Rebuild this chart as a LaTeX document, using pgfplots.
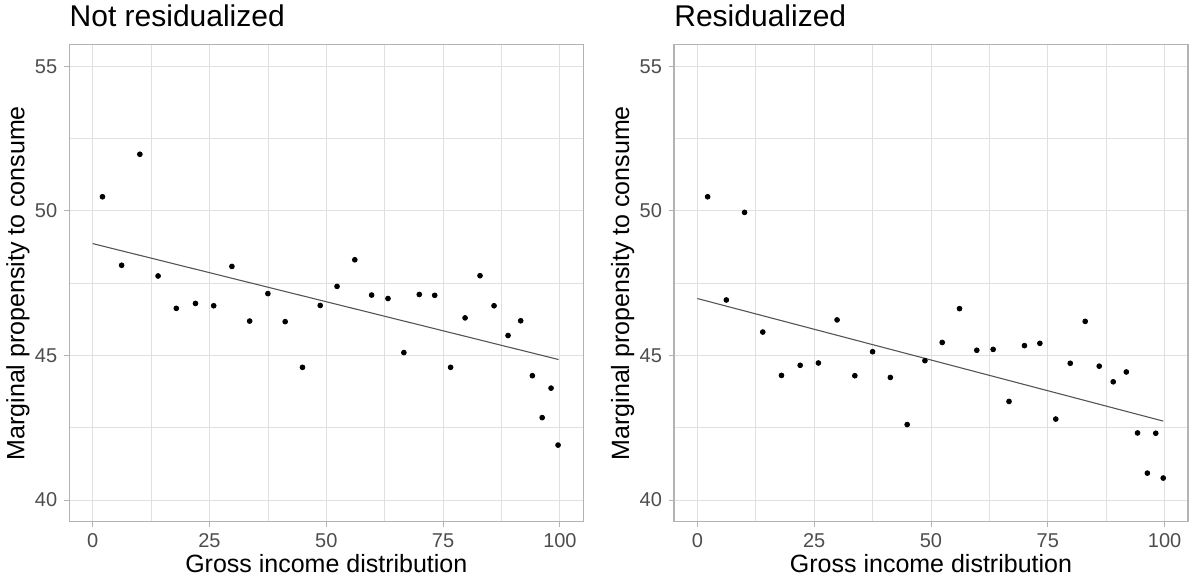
\documentclass[border=0pt]{standalone}
\usepackage{fontspec}
\setmainfont{Liberation Sans}
\usepackage{pgfplots}
\pgfplotsset{compat=1.18}
\definecolor{gborder}{RGB}{179,179,179}
\definecolor{ggrid}{RGB}{224,224,224}
\definecolor{gtick}{RGB}{77,77,77}
\definecolor{gline}{RGB}{85,85,85}

\pgfplotsset{
 panel/.style={
  scale only axis, width=257pt, height=238.5pt,
  anchor=south west,
  xmin=-5, xmax=105, ymin=39.25, ymax=55.75,
  xtick={0,25,50,75,100}, ytick={40,45,50,55},
  minor xtick={12.5,37.5,62.5,87.5}, minor ytick={42.5,47.5,52.5},
  grid=both,
  major grid style={ggrid, line width=0.5pt},
  minor grid style={ggrid, line width=0.3pt},
  axis line style={gborder, line width=0.6pt},
  tick align=outside, tick pos=left,
  major tick length=2.5pt, minor tick length=0pt,
  every tick/.style={gborder, line width=0.5pt},
  tick label style={font=\fontsize{10}{12}\selectfont, text=gtick},
  /pgf/number format/assume math mode=true,
  xlabel={Gross income distribution},
  ylabel={Marginal propensity to consume},
  xlabel style={at={(axis description cs:0.5,-0.0876)}, anchor=center, font=\fontsize{12.5}{15}\selectfont},
  ylabel style={at={(axis description cs:-0.1,0.5)}, anchor=center, font=\fontsize{12.5}{15}\selectfont},
  every axis title/.style={at={(axis description cs:0,1)}, anchor=base west, inner xsep=0pt, yshift=9.35pt, font=\fontsize{15}{18}\selectfont},
 },
 pts/.style={only marks, mark=*, mark size=1.2pt, black},
 fit/.style={no marks, gline, line width=0.55pt},
}

\begin{document}
\begin{tikzpicture}
\useasboundingbox (0,0) rectangle (595.5pt,292.5pt);
\begin{axis}[panel, at={(34.65pt,31.65pt)}, title={Not residualized}]
\addplot[fit] coordinates {(0,48.87) (99.7,44.86)};
\addplot[pts] coordinates {
(2.1,50.49) (6.2,48.12) (10.1,51.96) (14.0,47.75) (17.9,46.63) (22.0,46.80)
(25.9,46.72) (29.8,48.08) (33.6,46.19) (37.5,47.14) (41.2,46.17) (44.9,44.59)
(48.7,46.73) (52.3,47.39) (56.1,48.31) (59.7,47.09) (63.2,46.97) (66.6,45.10)
(69.9,47.11) (73.2,47.08) (76.6,44.59) (79.7,46.30) (82.9,47.76) (85.9,46.72)
(88.9,45.69) (91.6,46.20) (94.1,44.30) (96.2,42.85) (98.1,43.87) (99.6,41.90)};
\end{axis}
\begin{axis}[panel, at={(337pt,31.65pt)}, title={Residualized}]
\addplot[fit] coordinates {(0,46.97) (99.7,42.73)};
\addplot[pts] coordinates {
(2.2,50.49) (6.2,46.92) (10.1,49.95) (14.0,45.81) (18.0,44.31) (22.0,44.66)
(25.9,44.74) (29.9,46.23) (33.7,44.30) (37.5,45.13) (41.3,44.24) (44.9,42.61)
(48.7,44.82) (52.4,45.45) (56.1,46.62) (59.8,45.18) (63.3,45.21) (66.7,43.41)
(70.0,45.34) (73.3,45.42) (76.7,42.80) (79.8,44.73) (83.0,46.18) (86.0,44.63)
(89.0,44.09) (91.8,44.43) (94.2,42.32) (96.3,40.93) (98.1,42.31) (99.7,40.76)};
\end{axis}
\end{tikzpicture}
\end{document}
